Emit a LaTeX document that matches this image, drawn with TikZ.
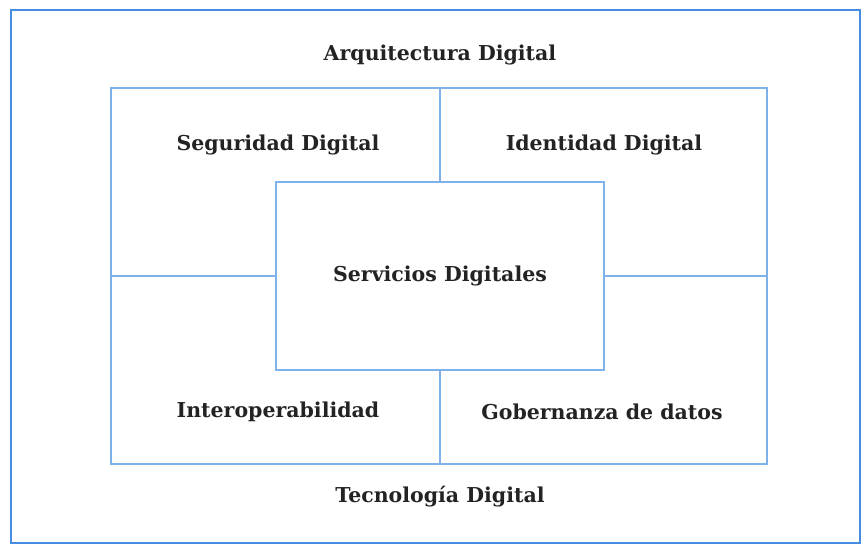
\documentclass[tikz,border=0pt]{standalone}
\usepackage{fontspec}
\setmainfont{DejaVu Serif}
\usepackage{xcolor}
\definecolor{frameblue}{RGB}{70,140,225}
\definecolor{lineblue}{RGB}{125,178,235}
\definecolor{labelgray}{RGB}{35,35,35}
\usetikzlibrary{positioning}

\tikzset{
  box/.style={draw=lineblue, line width=2pt, minimum width=#1},
  divider/.style={lineblue, line width=2pt},
  lbl/.style={text=labelgray, font=\fontsize{20.5}{24}\selectfont\bfseries}
}

\begin{document}
\begin{tikzpicture}[x=1pt,y=-1pt]
      \useasboundingbox (0,0) rectangle (864,545);
      \node[box=849, draw=frameblue, line width=2.4pt, minimum height=533] (outer) at (435.5,276.5) {};
      \node[box=656, minimum height=376] (inner) at (439,276) {};
      \node[box=328, minimum height=188, fill=white, lbl] (center) at (440,276) {Servicios Digitales};
      \draw[divider] (center.north) -- (center.north |- inner.north);
      \draw[divider] (center.south) -- (center.south |- inner.south);
      \draw[divider] (center.west) -- (inner.west |- center.west);
      \draw[divider] (center.east) -- (inner.east |- center.east);
      \node[lbl] (arq) at (440,55) {Arquitectura Digital};
      \node[lbl] (seg) at (278,145) {Seguridad Digital};
      \node[lbl] (ide) at (604,145) {Identidad Digital};
      \node[lbl] (int) at (278,412) {Interoperabilidad};
      \node[lbl] (gob) at (602,412) {Gobernanza de datos};
      \node[lbl] (tec) at (440,497) {Tecnología Digital};
    \end{tikzpicture}
\end{document}
